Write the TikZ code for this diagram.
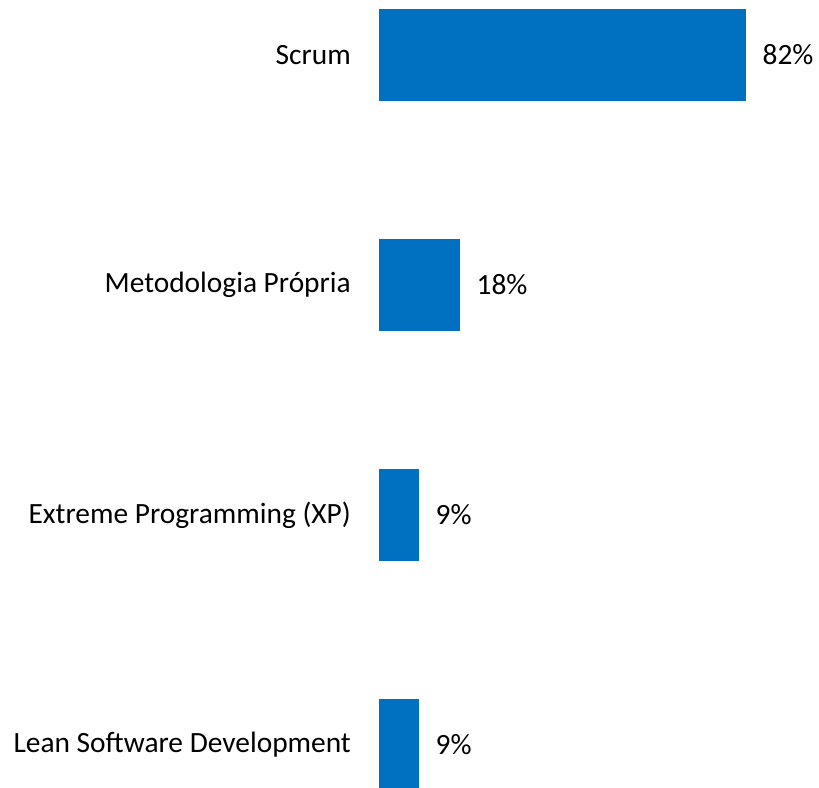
\documentclass[tikz,border=0pt]{standalone}
\usepackage{fontspec}
\setmainfont{Carlito}
\usepackage{xcolor}
\usetikzlibrary{positioning}
\definecolor{barblue}{HTML}{0070C0}

\begin{document}
\begin{tikzpicture}[x=1pt,y=-1pt,
  font=\fontsize{29.4}{35}\selectfont,
  bar/.style={fill=barblue, inner sep=0pt, minimum height=92pt, anchor=west},
  lbl/.style={inner sep=0pt}]
\useasboundingbox (0,0) rectangle (819,787);

\node[bar, minimum width=367pt] (scrum) at (379,55) {};
\node[lbl, left=28pt of scrum] (scrumname) {Scrum};
\node[lbl, right=16pt of scrum] (scrumval) {82\%};

\node[bar, minimum width=81pt] (propria) at (379,285) {};
\node[lbl, left=28pt of propria] (proprianame) {Metodologia Própria};
\node[lbl, right=16pt of propria] (propriaval) {18\%};

\node[bar, minimum width=40pt] (xp) at (379,515) {};
\node[lbl, left=28pt of xp] (xpname) {Extreme Programming (XP)};
\node[lbl, right=16pt of xp] (xpval) {9\%};

\node[bar, minimum width=40pt] (lean) at (379,745) {};
\node[lbl, left=28pt of lean] (leanname) {Lean Software Development};
\node[lbl, right=16pt of lean] (leanval) {9\%};
\end{tikzpicture}
\end{document}
